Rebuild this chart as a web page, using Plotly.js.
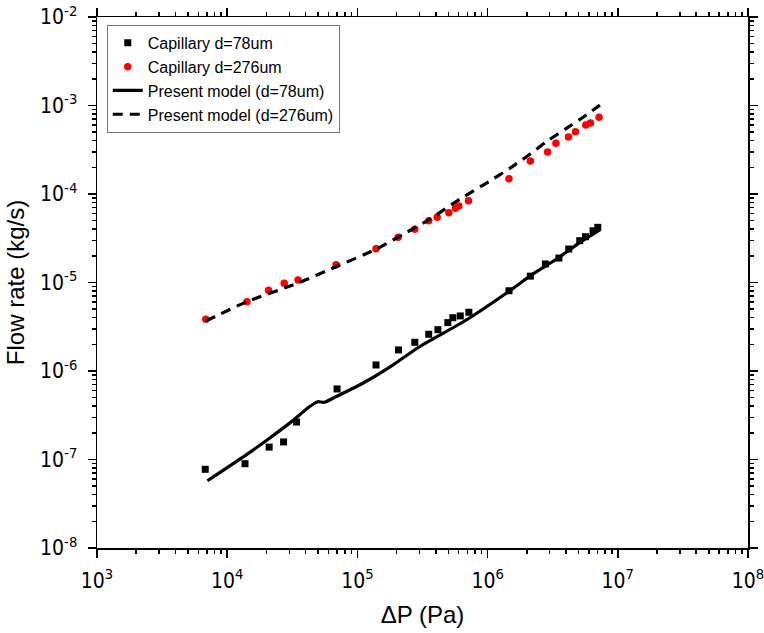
<!DOCTYPE html>
<html>
<head>
<meta charset="utf-8">
<script src="https://cdn.plot.ly/plotly-3.0.1.min.js"></script>
<style>html,body{margin:0;padding:0;background:#fff;}#chart{width:764px;height:633px;}</style>
</head>
<body>
<div id="chart"></div>
<script>
// Capillary d=78um (measured)
const expSmallX = [6780, 13700, 21000, 27100, 34100, 69800, 139000, 206700, 276000, 353000, 415000, 495000, 541000, 617000, 718000, 1.46e6, 2.13e6, 2.78e6, 3.53e6, 4.20e6, 5.10e6, 5.65e6, 6.46e6, 7.02e6];
const expSmallY = [7.75e-8, 8.97e-8, 1.38e-7, 1.58e-7, 2.65e-7, 6.27e-7, 1.17e-6, 1.73e-6, 2.11e-6, 2.60e-6, 2.93e-6, 3.52e-6, 4.00e-6, 4.19e-6, 4.61e-6, 8.07e-6, 1.18e-5, 1.62e-5, 1.89e-5, 2.39e-5, 2.97e-5, 3.29e-5, 3.85e-5, 4.20e-5];
// Capillary d=276um (measured)
const expLargeX = [6850, 14190, 20800, 27400, 35000, 68600, 139000, 205600, 276000, 353000, 410000, 504000, 567000, 601000, 714000, 1.46e6, 2.13e6, 2.89e6, 3.35e6, 4.18e6, 4.73e6, 5.68e6, 6.17e6, 7.18e6];
const expLargeY = [3.85e-6, 6.07e-6, 8.2e-6, 9.8e-6, 1.07e-5, 1.59e-5, 2.41e-5, 3.24e-5, 3.99e-5, 4.99e-5, 5.45e-5, 6.15e-5, 6.89e-5, 7.31e-5, 8.4e-5, 1.49e-4, 2.36e-4, 2.99e-4, 3.74e-4, 4.41e-4, 5.06e-4, 6.02e-4, 6.34e-4, 7.36e-4];
// Present model (d=78um)
const modelSmallX = [7050, 13900, 21000, 30000, 42800, 49500, 55800, 68600, 110000, 176000, 300000, 686000, 1.48e6, 2.23e6, 3.37e6, 5.10e6, 7.28e6];
const modelSmallY = [5.75e-8, 1.12e-7, 1.73e-7, 2.56e-7, 3.95e-7, 4.50e-7, 4.43e-7, 5.13e-7, 7.27e-7, 1.10e-6, 1.88e-6, 3.77e-6, 8.07e-6, 1.25e-5, 1.83e-5, 2.82e-5, 3.92e-5];
// Present model (d=276um)
const modelLargeX = [6850, 14000, 35000, 68600, 140000, 274000, 358000, 610000, 1.04e6, 1.48e6, 1.99e6, 2.83e6, 4.03e6, 5.74e6, 7.28e6];
const modelLargeY = [3.67e-6, 6.03e-6, 9.86e-6, 1.51e-5, 2.39e-5, 4.13e-5, 5.17e-5, 8.71e-5, 1.40e-4, 1.95e-4, 2.64e-4, 3.90e-4, 5.52e-4, 7.81e-4, 1.01e-3];

const xTickVals = [1e3, 1e4, 1e5, 1e6, 1e7, 1e8];
const xTickText = ['10<sup>3</sup>', '10<sup>4</sup>', '10<sup>5</sup>', '10<sup>6</sup>', '10<sup>7</sup>', '10<sup>8</sup>'];
const yTickVals = [1e-8, 1e-7, 1e-6, 1e-5, 1e-4, 1e-3, 1e-2];
const yTickText = ['10<sup>-8</sup>', '10<sup>-7</sup>', '10<sup>-6</sup>', '10<sup>-5</sup>', '10<sup>-4</sup>', '10<sup>-3</sup>', '10<sup>-2</sup>'];

function minorVals(lo, hi) {
  const v = [];
  for (let e = lo; e < hi; e++) for (let d = 2; d <= 9; d++) v.push(d * Math.pow(10, e));
  return v;
}

const tickFont = {family: '"Liberation Sans Narrow", "Arial Narrow", "DejaVu Sans Condensed", "Liberation Sans", Arial, sans-serif', size: 21, color: '#000'};
const titleFont = {family: '"Liberation Sans", Arial, sans-serif', size: 24, color: '#000'};

const traces = [
  {x: expSmallX, y: expSmallY, mode: 'markers', type: 'scatter', name: 'Capillary d=78um',
   marker: {symbol: 'square', size: 7, color: '#000'}},
  {x: expLargeX, y: expLargeY, mode: 'markers', type: 'scatter', name: 'Capillary d=276um',
   marker: {symbol: 'circle', size: 7.5, color: '#ff0000'}},
  {x: modelSmallX, y: modelSmallY, mode: 'lines', type: 'scatter', name: 'Present model (d=78um)',
   line: {color: '#000', width: 3.2, shape: 'spline', smoothing: 0.6}},
  {x: modelLargeX, y: modelLargeY, mode: 'lines', type: 'scatter', name: 'Present model (d=276um)',
   line: {color: '#000', width: 3.2, dash: '10px,7px', shape: 'spline', smoothing: 0.6}}
];

const axisCommon = {
  type: 'log', showline: true, linecolor: '#000', linewidth: 1.5, mirror: 'allticks',
  ticks: 'outside', ticklen: 8, tickwidth: 1.5, tickcolor: '#000', showgrid: false, zeroline: false,
  tickmode: 'array', tickfont: tickFont, ticklabeloverflow: 'allow'
};

const layout = {
  width: 764, height: 633,
  margin: {l: 97, r: 16, t: 17, b: 85},
  paper_bgcolor: '#fff', plot_bgcolor: '#fff',
  showlegend: true,
  legend: {x: 0.015, y: 0.985, xanchor: 'left', yanchor: 'top', bgcolor: '#fff',
    bordercolor: '#777', borderwidth: 1,
    font: {family: '"Liberation Sans", Arial, sans-serif', size: 16, color: '#000'},
    tracegroupgap: 0},
  xaxis: Object.assign({}, axisCommon, {
    range: [3, 8], tickvals: xTickVals, ticktext: xTickText, ticklabelstandoff: 5,
    minor: {tickmode: 'array', tickvals: minorVals(3, 8), ticks: 'outside', ticklen: 4, tickwidth: 1.5, tickcolor: '#000', showgrid: false},
    title: {text: 'ΔP (Pa)', font: titleFont, standoff: 14}
  }),
  yaxis: Object.assign({}, axisCommon, {
    range: [-8, -2], tickvals: yTickVals, ticktext: yTickText, ticklabelstandoff: 6,
    minor: {tickmode: 'array', tickvals: minorVals(-8, -2), ticks: 'outside', ticklen: 4, tickwidth: 1.5, tickcolor: '#000', showgrid: false},
    title: {text: 'Flow rate (kg/s)', font: titleFont, standoff: 8}
  })
};

Plotly.newPlot('chart', traces, layout, {displayModeBar: false, staticPlot: true});
</script>
</body>
</html>
